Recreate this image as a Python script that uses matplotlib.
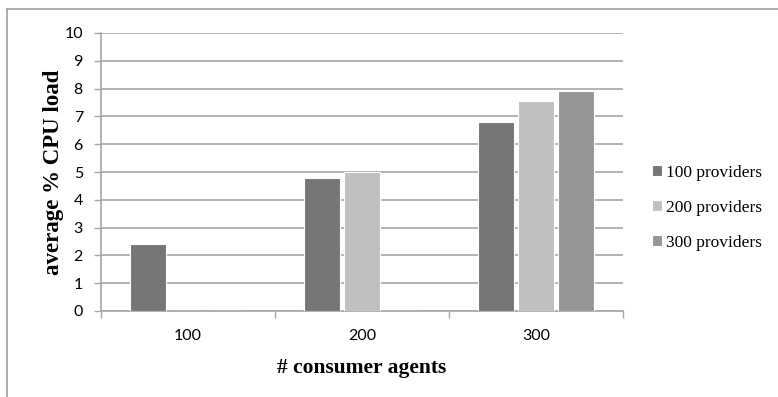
import matplotlib
matplotlib.use("Agg")
import matplotlib.pyplot as plt
from matplotlib.lines import Line2D
import numpy as np

categories = ["100", "200", "300"]
series_names = ["100 providers", "200 providers", "300 providers"]
s100 = [2.4, 4.8, 6.8]
s200 = [0, 5.0, 7.55]
s300 = [0, 0, 7.9]
colors = ["#767676", "#c0c0c0", "#969696"]
yticks = list(range(0, 11))

W, H = 778, 397
fig = plt.figure(figsize=(W/100, H/100), dpi=100)
ax = fig.add_axes([101/W, 1-311/H, (623-101)/W, (311-33)/H])

x = np.arange(len(categories))
width = 0.207
step = 0.23
for i, (vals, name, c) in enumerate(zip([s100, s200, s300], series_names, colors)):
    ax.bar(x + (i-1)*step, vals, width=width, color=c, edgecolor="white", linewidth=0.8,
           label=name, zorder=3)

ax.set_xlim(-0.5, 2.5)
ax.set_ylim(0, 10)
ax.set_yticks(yticks)
ax.yaxis.grid(True, color="#a6a6a6", linewidth=1.2, zorder=0)
ax.set_axisbelow(True)
ax.set_xticks(x)
ax.set_xticklabels(categories, fontfamily="Lato", fontsize=11.5)
ax.set_yticklabels([str(t) for t in yticks], fontfamily="Lato", fontsize=11.5)
ax.tick_params(axis="x", length=0, pad=13)
ax.set_xticks([-0.5, 0.5, 1.5, 2.5], minor=True)
ax.tick_params(axis="x", which="minor", length=5, color="#a6a6a6", width=1)
ax.tick_params(axis="y", length=5, color="#a6a6a6", width=1, pad=8)
for s in ["top", "right"]:
    ax.spines[s].set_visible(False)
for s in ["left", "bottom"]:
    ax.spines[s].set_color("#a6a6a6")
    ax.spines[s].set_linewidth(1.2)

ax.set_ylabel("average % CPU load", fontfamily="Liberation Serif", fontweight="bold",
              fontsize=16.5)
ax.yaxis.set_label_coords((64-101)/(623-101), 0.5)
ax.set_xlabel("# consumer agents", fontfamily="Liberation Serif", fontweight="bold",
              fontsize=15.5, labelpad=11)

leg = ax.legend(loc="center left", bbox_to_anchor=((636-101)/(623-101), (311-208)/(311-33)),
                frameon=False,
                prop={"family": "Liberation Serif", "size": 12.5},
                handlelength=0.6, handleheight=0.6, handletextpad=0.25, labelspacing=1.1)

# outer chart border
fig.add_artist(Line2D([7/W, 7/W], [0, 1-9/H], color="#a0a0a0", linewidth=1.2))
fig.add_artist(Line2D([7/W, 1], [1-9/H, 1-9/H], color="#a0a0a0", linewidth=1.2))

fig.savefig("out.png", dpi=100)
